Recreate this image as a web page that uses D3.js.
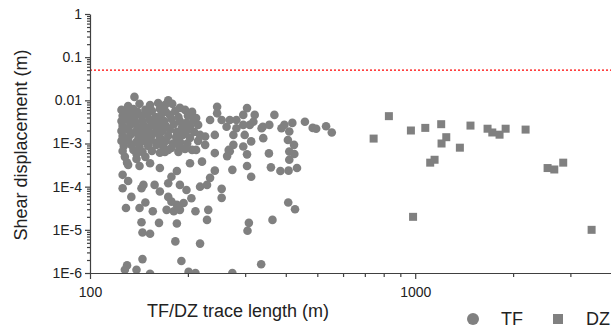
<!DOCTYPE html>
<html>
<head>
<meta charset="utf-8">
<script src="https://cdn.jsdelivr.net/npm/d3@7"></script>
<style>
  body { margin: 0; background: #fff; }
  svg { display: block; font-family: "Liberation Sans", Arial, sans-serif; }
</style>
</head>
<body>
<svg id="chart" width="611" height="331"></svg>
<script>
// trace length (m), shear displacement (m)
const tfPoints = [
  [137,1.2e-2],[174,1.0e-2],[170,7.8e-3],
  [131,7.4e-3],[142,8.3e-3],[153,7.8e-3],[162,8.7e-3],[179,8.3e-3],[189,6.7e-3],
  [125,6.0e-3],[130,5.7e-3],[136,6.3e-3],[140,5.4e-3],[148,6.0e-3],[155,5.7e-3],[164,6.3e-3],[171,5.4e-3],[183,5.7e-3],[196,6.0e-3],[206,5.4e-3],
  [126,4.4e-3],[132,4.6e-3],[137,4.1e-3],[144,4.4e-3],[150,4.6e-3],[159,4.1e-3],[165,4.4e-3],[176,4.6e-3],[187,4.1e-3],[200,4.4e-3],[212,3.9e-3],
  [125,3.3e-3],[131,3.5e-3],[138,3.2e-3],[145,3.3e-3],[153,3.5e-3],[161,3.2e-3],[169,3.3e-3],[178,3.7e-3],[189,3.3e-3],[198,3.0e-3],[208,3.5e-3],
  [126,2.56e-3],[133,2.7e-3],[140,2.4e-3],[147,2.56e-3],[155,2.7e-3],[163,2.4e-3],[171,2.56e-3],[181,2.8e-3],[192,2.4e-3],[203,2.56e-3],[215,2.7e-3],
  [125,1.96e-3],[131,2.1e-3],[138,1.86e-3],[144,1.96e-3],[151,2.1e-3],[159,1.86e-3],[167,1.96e-3],[176,2.1e-3],[185,1.86e-3],[198,1.96e-3],[209,1.86e-3],
  [126,1.5e-3],[133,1.58e-3],[141,1.42e-3],[148,1.5e-3],[155,1.58e-3],[164,1.42e-3],[174,1.5e-3],[184,1.42e-3],[193,1.58e-3],[203,1.35e-3],
  [125,1.15e-3],[131,1.21e-3],[139,1.09e-3],[146,1.15e-3],[154,1.21e-3],[162,1.09e-3],[171,1.15e-3],[180,1.0e-3],[189,1.09e-3],[199,1.0e-3],[215,1.15e-3],
  [127,8.8e-4],[134,9.3e-4],[142,8.4e-4],[151,8.8e-4],[160,9.3e-4],[168,8.4e-4],[178,7.9e-4],[188,8.8e-4],[196,7.5e-4],
  [126,6.7e-4],[136,7.1e-4],[145,6.4e-4],[155,6.7e-4],[164,6.1e-4],[174,7.1e-4],[187,6.4e-4],[206,7.1e-4],
  [128,4.9e-4],[130,3.6e-4],[139,4.4e-4],[148,4.9e-4],
  [139,5.8e-4],[170,6.4e-4],[212,7.1e-4],
  [131,3.2e-4],[142,3.0e-4],[153,3.5e-4],[164,2.7e-4],[203,3.5e-4],[221,3.8e-4],
  [126,1.88e-4],[131,1.35e-4],[126,9.2e-5],[146,1.1e-4],[144,9.2e-5],[158,1.1e-4],[164,7.7e-5],
  [178,1.7e-4],[185,2.3e-4],[174,1.2e-4],[189,1.1e-4],[198,8.4e-5],[218,1.0e-4],[229,1.1e-4],[234,1.6e-4],[242,2.35e-4],
  [134,5.8e-5],[148,4.3e-5],[142,3.2e-5],[156,2.7e-5],[174,5.8e-5],[178,4.5e-5],[185,3.8e-5],[194,4.2e-5],
  [172,2.9e-5],[181,2.7e-5],[189,2.9e-5],[205,5.4e-5],[211,2.7e-5],[129,3.2e-5],[231,2.9e-5],
  [144,1.5e-5],[163,1.45e-5],[185,1.4e-5],[229,1.7e-5],
  [308,1.45e-5],[305,9.5e-6],[364,1.7e-5],
  [145,8.7e-6],[153,8.1e-6],[183,5.4e-6],[218,4.8e-6],
  [145,2.1e-6],[191,1.9e-6],[336,1.6e-6],[130,1.5e-6],[128,1.19e-6],[139,1.19e-6],[153,9.6e-7],[201,1.06e-6],[211,1.0e-6],[274,1.0e-6],
  [242,6.0e-4],[264,5.1e-4],[269,6.6e-4],[304,5.6e-4],[355,5.9e-4],[410,6.5e-4],[425,5.7e-4],[410,4.2e-4],
  [274,2.45e-4],[304,3.0e-4],[313,1.7e-4],[360,2.8e-4],[385,2.3e-4],[408,2.35e-4],[433,2.7e-4],
  [254,8.9e-5],[254,5.5e-5],[407,4.3e-5],[427,3.0e-5],
  [246,7.1e-3],[246,5.0e-3],[304,6.6e-3],[321,4.6e-3],[318,3.2e-3],[369,4.6e-3],[296,4.6e-3],
  [234,3.5e-3],[226,1.45e-3],[242,1.58e-3],[254,3.5e-3],[269,3.5e-3],[282,2.25e-3],[276,1.58e-3],[263,2.45e-3],[282,3.5e-3],
  [296,2.7e-3],[310,2.7e-3],[299,1.58e-3],[313,1.12e-3],[296,8.5e-4],
  [337,2.25e-3],[356,2.7e-3],[388,2.25e-3],[419,3.0e-3],[396,2.7e-3],[340,2.45e-3],
  [341,1.33e-3],[410,1.9e-3],[406,1.21e-3],[424,9.3e-4],
  [267,7.1e-4],[276,9.3e-4],[218,1.58e-3],[226,9.3e-4],
  [458,3.2e-3],[484,2.3e-3],[496,2.2e-3],[532,2.5e-3],[554,1.8e-3]
];

const dzPoints = [
  [745,1.3e-3],[830,4.3e-3],[970,2.0e-3],[985,2.0e-5],[1074,2.3e-3],[1202,2.8e-3],
  [1246,1.4e-3],[1205,1.0e-3],[1112,3.6e-4],[1147,4.2e-4],[1372,8.0e-4],[1479,2.6e-3],
  [1669,2.2e-3],[1726,1.8e-3],[1817,1.6e-3],[1897,2.2e-3],[2185,2.1e-3],[2553,2.7e-4],
  [2677,2.5e-4],[2852,3.6e-4],[3487,1.0e-5]
];

const thresholdDisp = 0.05;

const xMajor = [100, 1000];
const xMinor = [200, 300, 400, 500, 600, 700, 800, 900, 2000, 3000];
const yMajor = [1e-6, 1e-5, 1e-4, 1e-3, 1e-2, 1e-1, 1];
const yTickLabels = ["1E-6", "1E-5", "1E-4", "1E-3", "0.01", "0.1", "1"];

const seriesNames = ["TF", "DZ"];
const grey = "#808080";
const axisColor = "#404040";

const svg = d3.select("#chart");
const m = {left: 90, right: 611, top: 14, bottom: 273};

const x = d3.scaleLog().domain([100, 4000]).range([m.left, m.right]);
const y = d3.scaleLog().domain([1e-6, 1]).range([m.bottom, m.top]);

svg.append("defs").append("clipPath").attr("id", "plot")
  .append("rect").attr("x", m.left).attr("y", m.top)
  .attr("width", m.right - m.left).attr("height", m.bottom - m.top);

// points
const plot = svg.append("g").attr("clip-path", "url(#plot)");

plot.append("g").selectAll("circle")
  .data(tfPoints)
  .enter().append("circle")
  .attr("cx", d => x(d[0]))
  .attr("cy", d => y(d[1]))
  .attr("r", 4.3)
  .attr("fill", grey);

plot.append("g").selectAll("rect")
  .data(dzPoints)
  .enter().append("rect")
  .attr("x", d => x(d[0]) - 4)
  .attr("y", d => y(d[1]) - 4)
  .attr("width", 8)
  .attr("height", 8)
  .attr("fill", grey);

// threshold line
svg.append("line")
  .attr("x1", m.left).attr("x2", m.right)
  .attr("y1", y(thresholdDisp)).attr("y2", y(thresholdDisp))
  .attr("stroke", "#ff0000")
  .attr("stroke-width", 1.3)
  .attr("stroke-dasharray", "2,2");

// y minor ticks
let yMinor = y.ticks().filter(v => !yMajor.includes(v));
svg.append("g")
  .attr("transform", `translate(${m.left},0)`)
  .call(d3.axisLeft(y).tickValues(yMinor).tickSize(3).tickFormat(""))
  .call(g => g.select(".domain").remove());

svg.append("g")
  .attr("transform", `translate(${m.left},0)`)
  .call(d3.axisLeft(y).tickValues(yMajor).tickSize(5).tickPadding(3)
    .tickFormat((d, i) => yTickLabels[i]).tickSizeOuter(0));

svg.append("g")
  .attr("transform", `translate(0,${m.bottom})`)
  .call(d3.axisBottom(x).tickValues(xMinor).tickSize(4).tickFormat(""))
  .call(g => g.select(".domain").remove());

svg.append("g")
  .attr("transform", `translate(0,${m.bottom})`)
  .call(d3.axisBottom(x).tickValues(xMajor).tickSize(6).tickPadding(8)
    .tickFormat(d3.format("d")).tickSizeOuter(0));

svg.selectAll(".domain, .tick line").attr("stroke", axisColor).attr("stroke-width", 1.2);
svg.selectAll(".tick text").attr("font-size", 14).attr("fill", "#222")
  .attr("font-family", "'Liberation Sans', Arial, sans-serif");

// axis titles
svg.append("text")
  .attr("transform", `translate(27,145) rotate(-90)`)
  .attr("text-anchor", "middle")
  .attr("font-size", 18)
  .attr("fill", "#222")
  .text("Shear displacement (m)");

svg.append("text")
  .attr("x", 238)
  .attr("y", 317)
  .attr("text-anchor", "middle")
  .attr("font-size", 18)
  .attr("fill", "#222")
  .text("TF/DZ trace length (m)");

// legend
const legend = svg.append("g");
legend.append("circle").attr("cx", 473).attr("cy", 319).attr("r", 6).attr("fill", grey);
legend.append("text").attr("x", 501).attr("y", 325).attr("font-size", 18).attr("fill", "#222").text(seriesNames[0]);
legend.append("rect").attr("x", 553).attr("y", 314).attr("width", 10).attr("height", 10).attr("fill", grey);
legend.append("text").attr("x", 586).attr("y", 325).attr("font-size", 18).attr("fill", "#222").text(seriesNames[1]);
</script>
</body>
</html>
